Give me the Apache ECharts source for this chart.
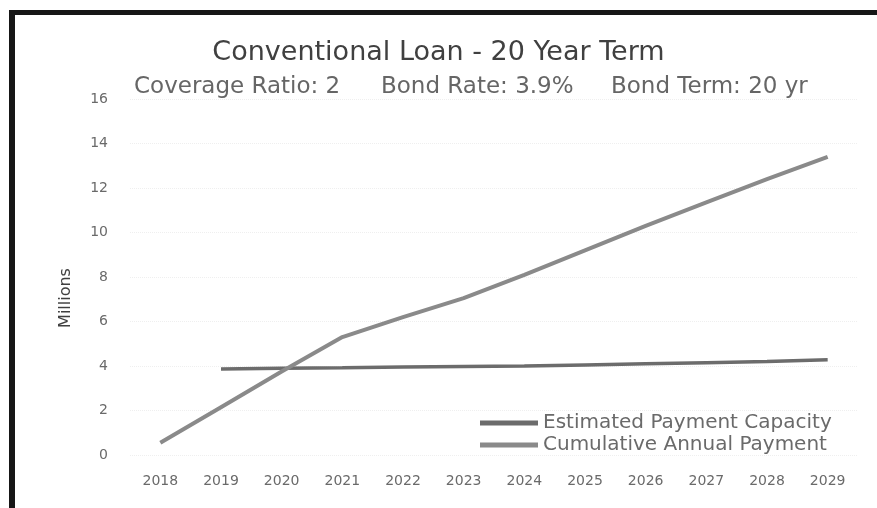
<!DOCTYPE html>
<html>
<head>
<meta charset="utf-8">
<script src="https://cdn.jsdelivr.net/npm/echarts@6/dist/echarts.min.js"></script>
<style>
  html, body { margin: 0; padding: 0; background: #fff; }
  #main { position: absolute; left: 0; top: 0; width: 877px; height: 508px; }
  /* scanned frame: black edge on top and left */
  #frame { position: absolute; left: 9px; top: 10px; width: 868px; height: 498px;
           border-left: 6px solid #161616; border-top: 5px solid #161616;
           box-sizing: border-box; pointer-events: none; }
</style>
</head>
<body>
<div id="main"></div>
<div id="frame"></div>
<script>
  // data (millions)
  var years = ['2018', '2019', '2020', '2021', '2022', '2023', '2024', '2025', '2026', '2027', '2028', '2029'];
  var paymentCapacity = [null, 3.87, 3.9, 3.92, 3.95, 3.98, 4.0, 4.05, 4.1, 4.15, 4.2, 4.28];
  var cumulativePayment = [0.55, 2.15, 3.75, 5.3, 6.2, 7.05, 8.1, 9.2, 10.3, 11.35, 12.4, 13.4];
  var yTicks = { min: 0, max: 16, interval: 2 };

  var chart = echarts.init(document.getElementById('main'));
  var font = '"DejaVu Sans", "Open Sans", sans-serif';
  var subStyle = { fontSize: 23, fontWeight: 'normal', color: '#666', fontFamily: font };

  var option = {
    backgroundColor: '#fff',
    title: [
      {
        text: 'Conventional Loan - 20 Year Term',
        left: 'center',
        top: 34,
        textStyle: { fontSize: 27, fontWeight: 'normal', color: '#404040', fontFamily: font }
      },
      { text: 'Coverage Ratio: 2', left: 129, top: 71, textStyle: subStyle },
      { text: 'Bond Rate: 3.9%', left: 376, top: 71, textStyle: subStyle },
      { text: 'Bond Term: 20 yr', left: 606, top: 71, textStyle: subStyle }
    ],
    legend: {
      orient: 'vertical',
      left: 475,
      top: 408,
      itemGap: 2,
      itemWidth: 58,
      itemHeight: 5,
      icon: 'rect',
      textStyle: { fontSize: 20, color: '#6a6a6a', fontFamily: font },
      data: ['Estimated Payment Capacity', 'Cumulative Annual Payment']
    },
    grid: { left: 130, right: 19, top: 99, bottom: 53 },
    xAxis: {
      type: 'category',
      data: years,
      boundaryGap: true,
      axisLine: { show: false },
      axisTick: { show: false },
      axisLabel: { fontSize: 14, color: '#6a6a6a', margin: 19, fontFamily: font }
    },
    yAxis: {
      type: 'value',
      min: yTicks.min,
      max: yTicks.max,
      interval: yTicks.interval,
      axisLine: { show: false },
      axisTick: { show: false },
      axisLabel: { fontSize: 14, color: '#6a6a6a', margin: 22, fontFamily: font },
      splitLine: { show: true, lineStyle: { color: '#efefef', width: 1, type: 'dotted' } }
    },
    graphic: [
      {
        type: 'text',
        x: 66,
        y: 298,
        rotation: Math.PI / 2,
        style: {
          text: 'Millions',
          fontSize: 16,
          fill: '#404040',
          fontFamily: font,
          align: 'center',
          verticalAlign: 'middle'
        }
      }
    ],
    series: [
      {
        name: 'Estimated Payment Capacity',
        type: 'line',
        data: paymentCapacity,
        symbol: 'none',
        lineStyle: { width: 3.5, color: '#6c6c6c' },
        itemStyle: { color: '#6c6c6c' }
      },
      {
        name: 'Cumulative Annual Payment',
        type: 'line',
        data: cumulativePayment,
        symbol: 'none',
        lineStyle: { width: 4, color: '#8a8a8a' },
        itemStyle: { color: '#8a8a8a' }
      }
    ]
  };

  chart.setOption(option);
</script>
</body>
</html>
